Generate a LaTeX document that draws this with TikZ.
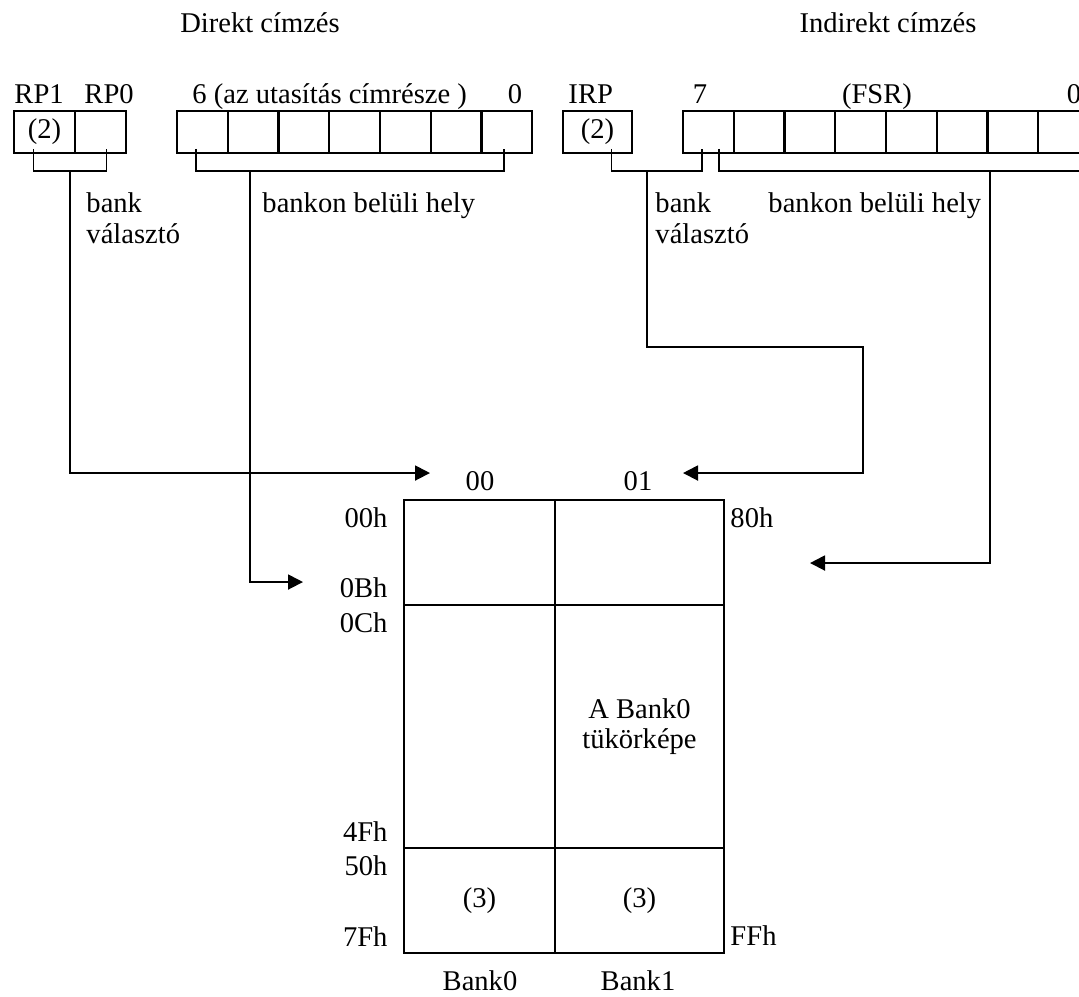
\documentclass[tikz,border=0pt]{standalone}
\usepackage{fontspec}
\setmainfont{Liberation Serif}
\usetikzlibrary{arrows.meta,calc}
\tikzset{
  regcell/.style={
    draw, line width=0.9pt, inner sep=0pt, outer sep=0pt,
    anchor=north west, minimum height=17.6pt,
    font=\fontsize{12}{14}\selectfont
  },
  memcell/.style={
    draw, line width=0.9pt, inner sep=0pt, outer sep=0pt,
    anchor=north west, align=center,
    font=\fontsize{12}{12.6}\selectfont
  },
  lbl/.style={inner sep=0pt, font=\fontsize{12}{13}\selectfont},
  wire/.style={line width=0.8pt},
  arr/.style={wire, -{Triangle[length=6.3pt,width=6.3pt]}}
}

\begin{document}
\begin{tikzpicture}[x=0.42pt, y=-0.42pt]
  \useasboundingbox (0,0) rectangle (1079,996);

  % titles
  \node[lbl, anchor=base] (tdir) at (260,32) {Direkt címzés};
  \node[lbl, anchor=base] (tind) at (888,32) {Indirekt címzés};

  % direct address: RP1 RP0 + 7 bit
  \node[lbl, anchor=base west] (lrp1) at (14,103) {RP1};
  \node[lbl, anchor=base west] (lrp0) at (84,103) {RP0};
  \node[lbl, anchor=base west] (lopc) at (192,103) {6 (az utasítás címrésze )};
  \node[lbl, anchor=base] (lop0) at (515,103) {0};
  \node[regcell, minimum width=25.6pt] (rp1) at (14,111) {(2)\hspace{4pt}};
  \node[regcell, minimum width=21.4pt] (rp0) at (75,111) {};
  \foreach \i in {1,...,7}
    \node[regcell, minimum width=21.3pt] (d\i) at ({177+(\i-1)*50.75},111) {};

  % indirect address: IRP + FSR
  \node[lbl, anchor=base west] (lirp) at (568,103) {IRP};
  \node[lbl, anchor=base] (lfs7) at (700,103) {7};
  \node[lbl, anchor=base] (lfsr) at (877,103) {(FSR)};
  \node[lbl, anchor=base] (lfs0) at (1074,103) {0};
  \node[regcell, minimum width=29pt] (irp) at (563,111) {(2)\hspace{5pt}};
  \foreach \i in {1,...,8}
    \node[regcell, minimum width=21.3pt] (f\i) at ({683+(\i-1)*50.75},111) {};

  % bracket joints
  \coordinate (selD) at (70,171);
  \coordinate (ofsD) at (250,171);
  \coordinate (selI) at (647,171);
  \coordinate (ofsI) at (990,171);
  \coordinate (bendI) at (863,347);

  \draw[wire] ($(rp1.south)+(-11,-4)$) |- (selD) -| ($(rp0.south)+(6,-4)$);
  \draw[wire] ($(d1.south)+(-6,-4)$) |- (ofsD) -| ($(d7.south)+(-3,-4)$);
  \draw[wire] ($(irp.south)+(14,-4)$) |- (selI) -| ($(f1.south)+(-6,-4)$);
  \draw[wire] ($(f1.south)+(11,-4)$) |- (ofsI) -- (ofsI -| f8.east);

  \node[lbl, anchor=base west, align=left] (nbank) at (86,243) {bank\\választó};
  \node[lbl, anchor=base west] (nhely) at (262,212) {bankon belüli hely};
  \node[lbl, anchor=base west, align=left] (ibank) at (655,243) {bank\\választó};
  \node[lbl, anchor=base west] (ihely) at (768,212) {bankon belüli hely};

  % memory banks
  \node[memcell, minimum width=63.4pt, minimum height=44.1pt] (b0a) at (404,500) {};
  \node[memcell, minimum width=71pt, minimum height=44.1pt] (b1a) at (555,500) {};
  \node[memcell, minimum width=63.4pt, minimum height=102.1pt] (b0b) at (404,605) {};
  \node[memcell, minimum width=71pt, minimum height=102.1pt] (b1b) at (555,605) {A Bank0\\tükörképe};
  \node[memcell, minimum width=63.4pt, minimum height=44.1pt] (b0c) at (404,848) {(3)};
  \node[memcell, minimum width=71pt, minimum height=44.1pt] (b1c) at (555,848) {(3)};

  \node[lbl, anchor=base] (h00) at (480,490) {00};
  \node[lbl, anchor=base] (h01) at (638,490) {01};
  \node[lbl, anchor=base] (bn0) at (480,990) {Bank0};
  \node[lbl, anchor=base] (bn1) at (638,990) {Bank1};

  \node[lbl, anchor=base east] (a00) at (388,527) {00h};
  \node[lbl, anchor=base east] (a0b) at (388,597) {0Bh};
  \node[lbl, anchor=base east] (a0c) at (388,632) {0Ch};
  \node[lbl, anchor=base east] (a4f) at (388,841) {4Fh};
  \node[lbl, anchor=base east] (a50) at (388,875) {50h};
  \node[lbl, anchor=base east] (a7f) at (388,946) {7Fh};
  \node[lbl, anchor=base west] (a80) at (730,527) {80h};
  \node[lbl, anchor=base west] (aff) at (730,945) {FFh};

  % arrow targets
  \coordinate (to00) at (430,473);
  \coordinate (to0b) at (303,582);
  \coordinate (to01) at (683,473);
  \coordinate (to80) at (810,563);

  \draw[arr] (selD) |- (to00);
  \draw[arr] (ofsD) |- (to0b);
  \draw[arr] (selI) |- (bendI) |- (to01);
  \draw[arr] (ofsI) |- (to80);
\end{tikzpicture}
\end{document}
